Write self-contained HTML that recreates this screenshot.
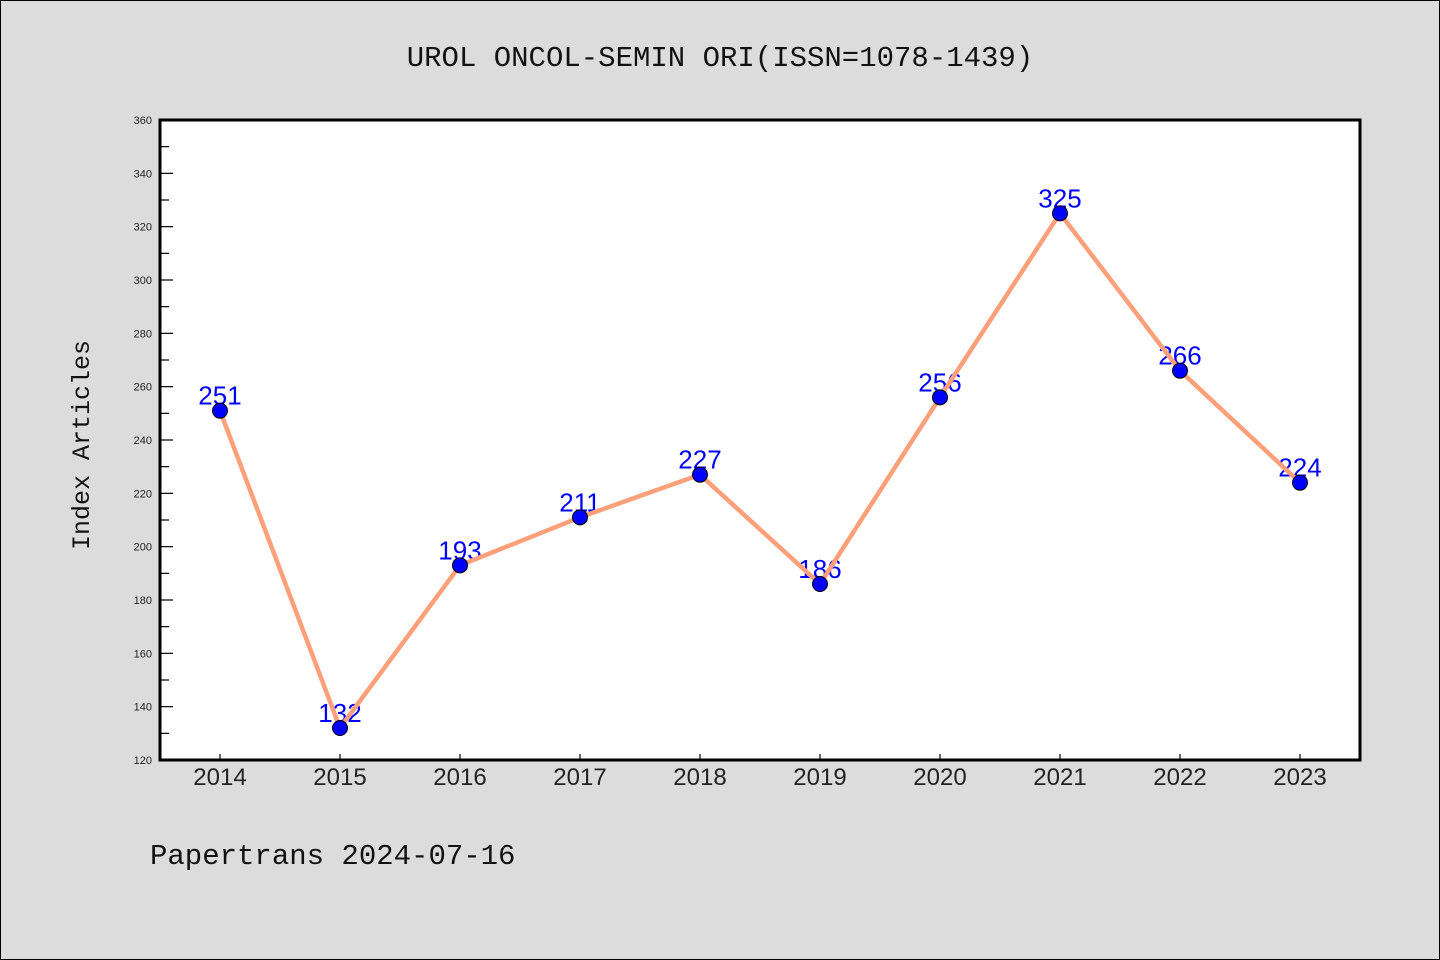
<!DOCTYPE html>
<html><head><meta charset="utf-8"><style>
body{margin:0;background:#dcdcdc;}
svg{display:block;font-family:"Liberation Sans","DejaVu Sans",sans-serif;}
</style></head><body>
<svg width="1440" height="960">
<rect x="0.5" y="0.5" width="1439" height="959" fill="#dcdcdc" stroke="#000"/>
<text x="720" y="66" font-size="29" text-anchor="middle" font-family="Liberation Mono, DejaVu Sans Mono, monospace" fill="#111">UROL ONCOL-SEMIN ORI(ISSN=1078-1439)</text>
<rect x="160" y="120" width="1200" height="640" fill="#fff"/>
<g id="yticks"></g>
<g id="xticks"></g>
<g id="labels"></g>
<g id="series"></g>
<rect x="160" y="120" width="1200" height="640" fill="none" stroke="#000" stroke-width="3"/>
<text transform="translate(89,445) rotate(-90)" font-size="25" text-anchor="middle" font-family="Liberation Mono, DejaVu Sans Mono, monospace" fill="#111">Index Articles</text>
<text x="150" y="864" font-size="29" font-family="Liberation Mono, DejaVu Sans Mono, monospace" fill="#111">Papertrans 2024-07-16</text>
</svg>
<script>
const years=["2014","2015","2016","2017","2018","2019","2020","2021","2022","2023"];
const values=[251,132,193,211,227,186,256,325,266,224];
const yTicks=[120,140,160,180,200,220,240,260,280,300,320,340,360];
const NS="http://www.w3.org/2000/svg";
const x0=160,x1=1360,y0=760,y1=120,ymin=120,ymax=360;
const xs=i=>x0+60+i*(x1-x0-120)/(years.length-1);
const ys=v=>y0-(v-ymin)/(ymax-ymin)*(y0-y1);
function mk(t,a,p){const e=document.createElementNS(NS,t);for(const k in a)e.setAttribute(k,a[k]);p.appendChild(e);return e;}
const yg=document.getElementById('yticks');
yTicks.forEach((v,i)=>{
 const l=mk('line',{x1:x0,x2:x0+13,y1:ys(v),y2:ys(v),stroke:'#000','stroke-width':1.2},yg);
 
 
 const t=mk('text',{x:x0-8,y:ys(v)+4,'font-size':11,'text-anchor':'end',fill:'#222'},yg);
 t.textContent=v;
 
 
 if(i<yTicks.length-1){
  const m=mk('line',{x1:x0,x2:x0+9,y1:ys(v+10),y2:ys(v+10),stroke:'#000','stroke-width':1.2},yg);
  
  
 }
});
const xg=document.getElementById('xticks');
years.forEach((y,i)=>{
 const l=mk('line',{x1:xs(i),x2:xs(i),y1:y0,y2:y0-6,stroke:'#000','stroke-width':1.2},xg);
 
 
 const t=mk('text',{x:xs(i),y:y0+25,'font-size':24,'text-anchor':'middle',fill:'#222'},xg);
 t.textContent=y;
 
 
});
const lg=document.getElementById('labels');
values.forEach((v,i)=>{
 const t=mk('text',{x:xs(i),y:ys(v)-6,'font-size':26,'text-anchor':'middle',fill:'#0000ff'},lg);
 t.textContent=v;
 
 
});
const sg=document.getElementById('series');
const pl=mk('polyline',{points:values.map((v,i)=>xs(i)+','+ys(v)).join(' '),fill:'none',stroke:'#ffa07a','stroke-width':4.5,'stroke-linejoin':'round'},sg);


values.forEach((v,i)=>{
 const c=mk('circle',{cx:xs(i),cy:ys(v),r:7.5,fill:'#0000ff',stroke:'#000','stroke-width':1},sg);
 
 
});
</script>
</body></html>
